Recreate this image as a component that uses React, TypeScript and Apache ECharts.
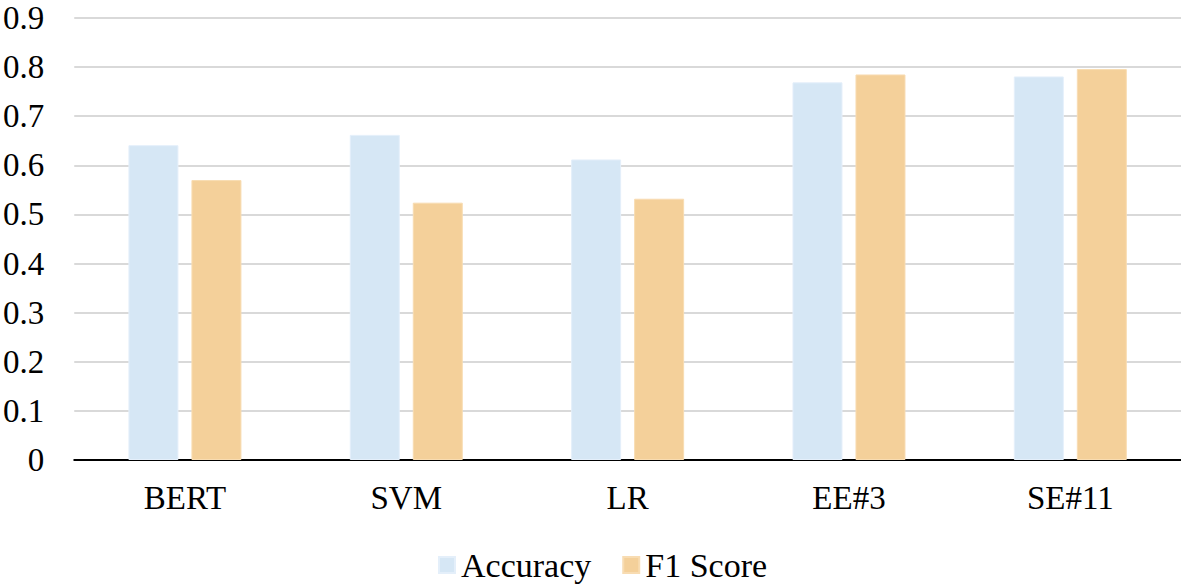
import React, { useEffect, useRef } from "react";
import * as echarts from "echarts";

const categories = ["BERT", "SVM", "LR", "EE#3", "SE#11"];
const accuracy = [0.641, 0.662, 0.612, 0.769, 0.781];
const f1Score = [0.57, 0.524, 0.532, 0.785, 0.796];
const yTicks = { min: 0, max: 0.9, interval: 0.1 };

export default function App() {
  const ref = useRef<HTMLDivElement>(null);
  useEffect(() => {
    const chart = echarts.init(ref.current!, null, { renderer: "svg" });
    const font = "'Times New Roman', 'Liberation Serif', serif";
    chart.setOption({
      animation: false,
      textStyle: { fontFamily: font },
      grid: { left: 70, right: 0, top: 18, bottom: 127, containLabel: false },
      legend: {
        bottom: 0,
        left: 433,
        itemWidth: 16,
        itemHeight: 16,
        itemGap: 31,
        icon: "rect",
        textStyle: { fontFamily: font, fontSize: 34, color: "#000", padding: [0, 0, 0, 1] },
        data: ["Accuracy", "F1 Score"],
      },
      xAxis: {
        type: "category",
        data: categories,
        axisLine: { lineStyle: { color: "#000", width: 2 } },
        axisTick: { show: false },
        axisLabel: { fontFamily: font, fontSize: 33, color: "#000", margin: 21 },
      },
      yAxis: {
        type: "value",
        min: yTicks.min,
        max: yTicks.max,
        interval: yTicks.interval,
        axisLine: { show: false },
        axisTick: { show: false },
        splitLine: { lineStyle: { color: "#d9d9d9", width: 2 } },
        axisLabel: {
          fontFamily: font,
          fontSize: 33,
          color: "#000",
          margin: 30,
          formatter: (v: number) => (Math.abs(v) < 1e-9 ? "0" : v.toFixed(1)),
        },
      },
      series: [
        {
          name: "Accuracy",
          type: "bar",
          data: accuracy,
          barWidth: 50,
          barGap: "26%",
          itemStyle: { color: "#d6e7f5", borderColor: "#e4effa", borderWidth: 1 },
        },
        {
          name: "F1 Score",
          type: "bar",
          data: f1Score,
          barWidth: 50,
          itemStyle: { color: "#f4d09a", borderColor: "#f8dcb2", borderWidth: 1 },
        },
      ],
    });
    return () => chart.dispose();
  }, []);
  return (
    <div
      ref={ref}
      style={{ position: "fixed", left: 0, top: 0, width: 1181, height: 587, background: "#fff" }}
    />
  );
}
